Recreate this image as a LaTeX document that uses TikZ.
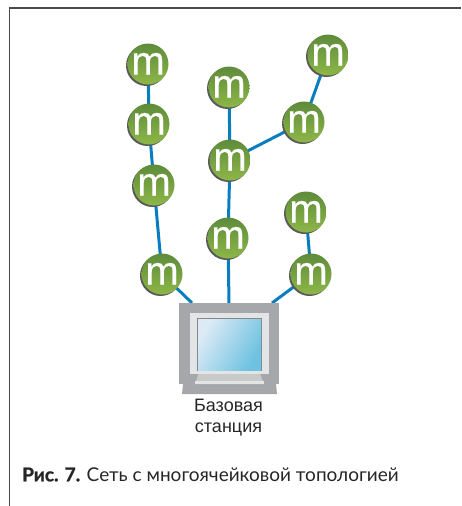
\documentclass[tikz,border=0pt]{standalone}
\usepackage{fontspec}
\setmainfont{Liberation Sans}
\newfontfamily\capfont{Lato}
\usetikzlibrary{backgrounds,shadows}
\definecolor{linkblue}{HTML}{0A7DBE}
\definecolor{monigray}{HTML}{A5A7AB}
\definecolor{bezel}{HTML}{E3E4E5}
\definecolor{framegray}{HTML}{4A4A4A}
\definecolor{mtop}{HTML}{5E8B3A}
\definecolor{mbot}{HTML}{8DB748}
\definecolor{scrA}{HTML}{DDEAF6}
\definecolor{scrM}{HTML}{A3D3EC}
\definecolor{scrB}{HTML}{6CC2E0}
\tikzset{
  mote/.style={circle,minimum size=41pt,inner sep=0pt,top color=mtop,bottom color=mbot,
    drop shadow={shadow xshift=-1.5pt,shadow yshift=-1.5pt,fill=black!65,opacity=1},
    text=white,font=\fontsize{40}{40}\selectfont\addfontfeature{FakeBold=0.4},text height=21pt,text depth=0pt},
  link/.style={draw=linkblue,line width=3pt},
  framel/.style={draw=framegray,line width=1.6pt},
  basetext/.style={align=center,font=\fontsize{18}{21}\selectfont,text=black!85},
  captext/.style={anchor=west,inner sep=0pt,font=\capfont\fontsize{19}{21}\selectfont,text=black!85}
}
\begin{document}
\begin{tikzpicture}[x=1pt,y=-1pt]
\useasboundingbox (0,0) rectangle (461,506);
\draw[framel] (9.5,506) -- (9.5,8) -- (461,8);
% monitor
\node (mon) [rectangle,fill=monigray,minimum width=100pt,minimum height=81pt,inner sep=0pt] at (229,343.5) {};
\fill[monigray] (183,384) -- (276,384) -- (277,394) -- (182,394) -- cycle;
\fill[bezel] (190,313) rectangle (269,374);
\fill[bezel!88!black] (198.5,374) -- (260,374) -- (264,384) -- (195,384) -- cycle;
\fill[bezel] (195,381) -- (264,381) -- (264,384) -- (195,384) -- cycle;
\fill[monigray!80!black] (196.5,317.5) rectangle (261.5,370.5);
\shade[left color=scrA,middle color=scrM,right color=scrB,shading angle=60] (198,319) rectangle (261,370);
\coordinate (mA) at (192,303);
\coordinate (mB) at (229,303);
\coordinate (mC) at (272,303);
% motes
\node[mote] (n1) at (148,64) {m};
\node[mote] (n2) at (149,124) {m};
\node[mote] (n3) at (154,185) {m};
\node[mote] (n4) at (162,274) {m};
\node[mote] (n5) at (229,87) {m};
\node[mote] (n6) at (230,160) {m};
\node[mote] (n7) at (228,238) {m};
\node[mote] (n8) at (304,122) {m};
\node[mote] (n9) at (328,55) {m};
\node[mote] (n10) at (306,212) {m};
\node[mote] (n11) at (311,274) {m};
\begin{scope}[on background layer]
\draw[link] (n1.center) -- (n2.center);
\draw[link] (n2.center) -- (n3.center);
\draw[link] (n3.center) -- (n4.center);
\draw[link] (n4.center) -- (mA);
\draw[link] (n5.center) -- (n6.center);
\draw[link] (n6.center) -- (n7.center);
\draw[link] (n7.center) -- (mB);
\draw[link] (n6.center) -- (n8.center);
\draw[link] (n8.center) -- (n9.center);
\draw[link] (n10.center) -- (n11.center);
\draw[link] (n11.center) -- (mC);
\end{scope}
\node[basetext] (lab) at (228.5,418) {Базовая\\станция};
\node[captext] (cap) at (22,474.5) {{\bfseries\addfontfeature{FakeBold=1.2}Рис. 7.} Сеть с многоячейковой топологией};
\end{tikzpicture}
\end{document}
